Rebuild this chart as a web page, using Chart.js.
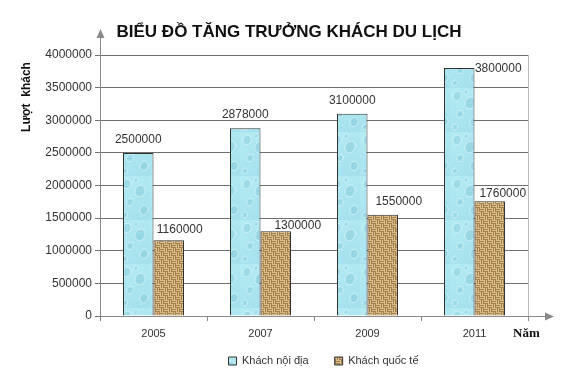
<!DOCTYPE html>
<html>
<head>
<meta charset="utf-8">
<script src="https://cdn.jsdelivr.net/npm/chart.js@4.4.1/dist/chart.umd.min.js"></script>
<style>
  html, body { margin: 0; padding: 0; background: #fff; }
  #wrap { width: 578px; height: 384px; }
</style>
</head>
<body>
<div id="wrap"><canvas id="chart"></canvas></div>
<script>
// data
const years = ['2005', '2007', '2009', '2011'];
const domestic = [2500000, 2878000, 3100000, 3800000];
const international = [1160000, 1300000, 1550000, 1760000];
const seriesNames = ['Khách nội địa', 'Khách quốc tế'];
const yMin = 0;
const yMax = 4000000;
const yStep = 500000;

// label nudges relative to the bar top (style only)
const labelNudge = [
  [[0, -13], [0, -14], [0, -13], [39, 1]],
  [[11, -11], [22, -5], [16, -13], [13, -7]]
];

// textures for the bars
function waterPattern() {
  const c = document.createElement('canvas');
  c.width = 30; c.height = 44;
  const g = c.getContext('2d');
  const grad = g.createLinearGradient(0, 0, 30, 44);
  grad.addColorStop(0, '#b4ebf3');
  grad.addColorStop(1, '#a2e0ec');
  g.fillStyle = grad;
  g.fillRect(0, 0, 30, 44);
  const drops = [[7, 8, 4], [20, 15, 5], [10, 26, 3], [24, 34, 4], [5, 39, 2.5], [16, 4, 2]];
  drops.forEach(([x, y, r]) => {
    g.beginPath();
    g.ellipse(x, y, r, r * 1.2, 0.4, 0, Math.PI * 2);
    g.fillStyle = 'rgba(110,190,208,0.3)';
    g.fill();
    g.strokeStyle = 'rgba(235,250,252,0.6)';
    g.lineWidth = 1;
    g.stroke();
  });
  return g.createPattern(c, 'repeat');
}

function wovenPattern() {
  const c = document.createElement('canvas');
  c.width = 8; c.height = 8;
  const g = c.getContext('2d');
  g.fillStyle = '#d9be8b';
  g.fillRect(0, 0, 8, 8);
  g.fillStyle = '#a3804c';
  g.fillRect(0, 1, 4, 1);
  g.fillRect(0, 3, 4, 1);
  g.fillRect(5, 0, 1, 4);
  g.fillRect(7, 0, 1, 4);
  g.fillRect(1, 4, 1, 4);
  g.fillRect(3, 4, 1, 4);
  g.fillRect(4, 5, 4, 1);
  g.fillRect(4, 7, 4, 1);
  return g.createPattern(c, 'repeat');
}

// title, axis arrows, value labels
const decorations = {
  id: 'decorations',
  afterLayout(chart) {
    // the legend in the picture sits a little right of centre
    const lg = chart.legend;
    const h = lg.bottom - lg.top;
    lg.left = 69;
    lg.right = 578;
    lg.width = lg.right - lg.left;
    lg.top = 329.5;
    lg.bottom = lg.top + h;
  },
  beforeDatasetsDraw(chart) {
    const { ctx, chartArea: a } = chart;
    ctx.save();
    ctx.strokeStyle = '#b8b8b8';
    ctx.lineWidth = 1;
    ctx.beginPath();
    ctx.moveTo(a.right + 0.5, a.top);
    ctx.lineTo(a.right + 0.5, a.bottom);
    ctx.stroke();
    ctx.restore();
  },
  afterDraw(chart) {
    const { ctx, chartArea: a } = chart;
    ctx.save();
    // axis arrows
    ctx.strokeStyle = '#8a8a8a';
    ctx.fillStyle = '#8a8a8a';
    ctx.lineWidth = 1;
    ctx.beginPath();
    ctx.moveTo(a.left + 0.5, a.top);
    ctx.lineTo(a.left + 0.5, 36);
    ctx.moveTo(a.right, a.bottom + 0.5);
    ctx.lineTo(547, a.bottom + 0.5);
    ctx.stroke();
    ctx.beginPath();
    ctx.moveTo(a.left + 0.5, 29);
    ctx.lineTo(a.left - 3.5, 38);
    ctx.lineTo(a.left + 4.5, 38);
    ctx.closePath();
    ctx.fill();
    ctx.beginPath();
    ctx.moveTo(554, a.bottom + 0.5);
    ctx.lineTo(545, a.bottom - 3.5);
    ctx.lineTo(545, a.bottom + 4.5);
    ctx.closePath();
    ctx.fill();

    // title
    ctx.fillStyle = '#111';
    ctx.font = 'bold 17px "Liberation Sans", Arial, sans-serif';
    ctx.textAlign = 'center';
    ctx.textBaseline = 'middle';
    ctx.fillText('BIỂU ĐỒ TĂNG TRƯỞNG KHÁCH DU LỊCH', 289, 32);

    // y axis title
    ctx.save();
    ctx.translate(27, 97);
    ctx.rotate(-Math.PI / 2);
    ctx.font = 'bold 12px "Liberation Sans", Arial, sans-serif';
    ctx.fillText('Lượt  khách', 0, 0);
    ctx.restore();

    // x axis title
    ctx.font = 'bold 13px "Liberation Serif", "Times New Roman", serif';
    ctx.textAlign = 'left';
    ctx.fillText('Năm', 513, 334);

    // value labels
    ctx.font = '12px "Liberation Sans", Arial, sans-serif';
    ctx.fillStyle = '#333';
    ctx.textAlign = 'center';
    chart.data.datasets.forEach((ds, di) => {
      chart.getDatasetMeta(di).data.forEach((bar, i) => {
        const [dx, dy] = labelNudge[di][i];
        ctx.fillText(String(ds.data[i]), bar.x + dx, bar.y + dy);
      });
    });
    ctx.restore();
  }
};

new Chart(document.getElementById('chart'), {
  type: 'bar',
  data: {
    labels: years,
    datasets: [
      {
        label: seriesNames[0],
        data: domestic,
        backgroundColor: waterPattern(),
        borderColor: '#333',
        borderWidth: 1
      },
      {
        label: seriesNames[1],
        data: international,
        backgroundColor: wovenPattern(),
        borderColor: '#333',
        borderWidth: 1
      }
    ]
  },
  options: {
    responsive: true,
    maintainAspectRatio: false,
    animation: false,
    layout: { padding: { top: 55, left: 40, right: 50, bottom: 0 } },
    datasets: { bar: { categoryPercentage: 0.57, barPercentage: 1 } },
    scales: {
      x: {
        offset: true,
        grid: { offset: true, drawOnChartArea: false, tickLength: 5, color: '#8a8a8a' },
        border: { color: '#8a8a8a' },
        ticks: { color: '#333', padding: 6, font: { family: '"Liberation Sans", Arial', size: 11 } },
        afterFit: (s) => { s.height = 21; }
      },
      y: {
        min: yMin,
        max: yMax,
        grid: { color: '#707070', tickLength: 5 },
        border: { color: '#8a8a8a' },
        ticks: {
          stepSize: yStep,
          color: '#333',
          padding: 3,
          font: { family: '"Liberation Sans", Arial', size: 12 },
          callback: (v) => String(v)
        },
        afterFit: (s) => { s.width = 60; }
      }
    },
    plugins: {
      title: { display: false },
      tooltip: { enabled: false },
      legend: {
        position: 'bottom',
        labels: {
          boxWidth: 8,
          boxHeight: 8,
          padding: 26,
          color: '#333',
          font: { family: '"Liberation Sans", Arial', size: 11 }
        }
      }
    }
  },
  plugins: [decorations]
});
</script>
</body>
</html>
